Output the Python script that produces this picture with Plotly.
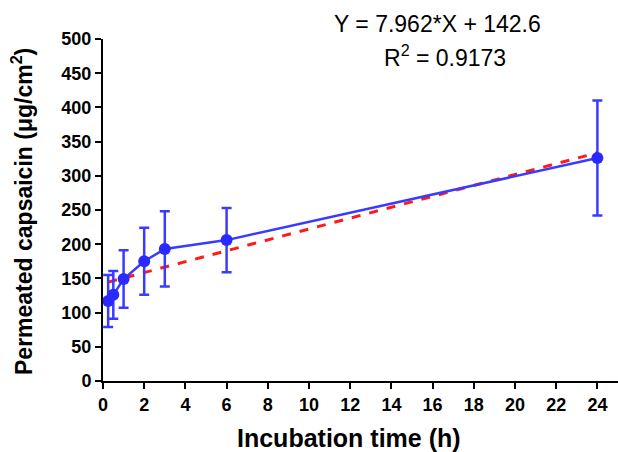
import plotly.graph_objects as go

time_h = [0.25, 0.5, 1, 2, 3, 6, 24]
capsaicin = [117, 126, 149, 175, 193, 206, 326]
sd = [38, 35, 42, 49, 55, 47, 84]
slope = 7.962
intercept = 142.6
fit_x = [0.25, 24]
fit_y = [slope * x + intercept for x in fit_x]
x_ticks = list(range(0, 25, 2))
y_ticks = list(range(0, 501, 50))

fig = go.Figure()
fig.add_trace(go.Scatter(
    x=fit_x, y=fit_y, mode="lines",
    line=dict(color="#ff1a1a", width=3, dash="dash"), showlegend=False))
fig.add_trace(go.Scatter(
    x=time_h, y=capsaicin, mode="lines+markers",
    line=dict(color="#3b3bff", width=2.5),
    marker=dict(color="#2a2aff", size=12),
    error_y=dict(type="data", array=sd, color="#3b3bff", thickness=2.5, width=5),
    showlegend=False, cliponaxis=False))

tickfont = dict(family="Arial, Liberation Sans", size=18, color="black", weight="bold")
L, T, W, H = 103, 39, 515, 342
fig.update_layout(
    width=618, height=452,
    margin=dict(l=L, r=0, t=T, b=452 - T - H),
    plot_bgcolor="white", paper_bgcolor="white",
    font=dict(family="Arial, Liberation Sans", color="black"),
    xaxis=dict(range=[0, 25], tickmode="array", tickvals=x_ticks,
               ticks="outside", ticklen=6, tickwidth=2, tickcolor="black",
               showline=True, linewidth=2, linecolor="black", showgrid=False, zeroline=False,
               tickfont=tickfont, automargin=False),
    yaxis=dict(range=[0, 500], tickmode="array", tickvals=y_ticks,
               ticks="outside", ticklen=6, tickwidth=2, tickcolor="black",
               showline=True, linewidth=2, linecolor="black", showgrid=False, zeroline=False,
               tickfont=tickfont, automargin=False),
)

def px(xp):
    return (xp - L) / W

def py(yp):
    return (T + H - yp) / H

common = dict(xref="paper", yref="paper", showarrow=False, xanchor="center", yanchor="middle")
fig.add_annotation(text="Incubation time (h)", x=px(349), y=py(438),
                   font=dict(size=25, weight="bold", color="black"), **common)
fig.add_annotation(text="Permeated capsaicin (μg/cm<sup>2</sup>)", x=px(22), y=py(212),
                   textangle=-90, font=dict(size=23, weight="bold", color="black"), **common)
fig.add_annotation(text="Y = 7.962*X + 142.6", x=px(437), y=py(24),
                   font=dict(size=23, color="black"), **common)
fig.add_annotation(text="R<sup>2</sup> = 0.9173", x=px(445), y=py(56),
                   font=dict(size=23, color="black"), **common)
fig.write_html("out.html", config={"displayModeBar": False},
               post_script="document.body.style.margin='0px';")
